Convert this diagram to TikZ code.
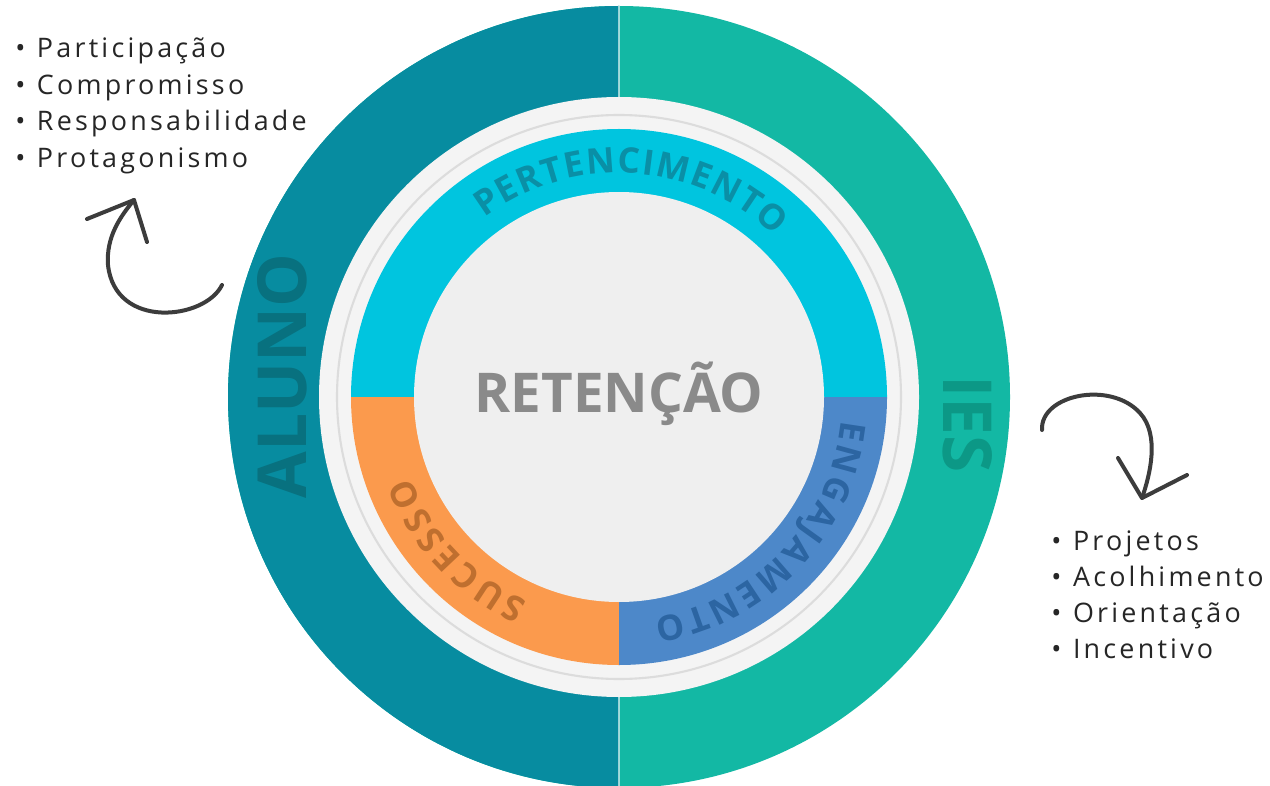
\documentclass[tikz,border=0pt]{standalone}
\usepackage{fontspec}
\setmainfont{Open Sans}
\newfontfamily\listfont[LetterSpace=12]{Open Sans}
\usetikzlibrary{decorations.text}

\definecolor{alunoteal}{HTML}{078CA0}
\definecolor{alunodark}{HTML}{08717F}
\definecolor{iesgreen}{HTML}{13B8A4}
\definecolor{iesdark}{HTML}{0C9886}
\definecolor{pertcyan}{HTML}{00C5DF}
\definecolor{pertdark}{HTML}{0A8FA6}
\definecolor{sucorange}{HTML}{FB9A4D}
\definecolor{sucdark}{HTML}{BF6F2F}
\definecolor{engblue}{HTML}{4D88C9}
\definecolor{engdark}{HTML}{2C65A2}
\definecolor{ringgrey}{HTML}{F4F4F4}
\definecolor{ringline}{HTML}{DCDCDC}
\definecolor{coregrey}{HTML}{EFEFEF}
\definecolor{retgrey}{HTML}{8A8A8A}
\definecolor{arrowgrey}{HTML}{3C3C3C}
\definecolor{listgrey}{HTML}{262626}

\def\pieslice[#1](#2:#3:#4){\fill[#1] (0,0) -- (#2:#4) arc (#2:#3:#4) -- cycle;}
\def\curvefont{\fontsize{20}{22}\selectfont\bfseries}
\def\curvetext[#1](#2:#3:#4)#5{\path[decorate,decoration={text along path,text align={fit to path},text={|\curvefont\color{#1}|#5}}] (#2:#4) arc (#2:#3:#4);}
\def\bul{\textbullet\hspace{0.43em}}

\tikzset{
  listtext/.style={anchor=base west, inner sep=0pt, text=listgrey, font=\listfont\fontsize{15.3}{17}\selectfont},
  sidetext/.style={inner sep=0pt, font=\fontsize{38.5}{40}\selectfont\bfseries},
  arrowline/.style={draw=arrowgrey, line width=0.08cm, line cap=round, line join=round}
}

\begin{document}
\begin{tikzpicture}[x=0.02cm,y=0.02cm]
	%%%%% START %%%%%
	\useasboundingbox (0,0) rectangle (1270,785);
	\fill[white] (0,0) rectangle (1270,785);
	
	\begin{scope}[shift={(619,388)}]
		\coordinate (ctr) at (0,0);
		
		% outer ring
		\fill[iesgreen] (ctr) circle (391);
		\pieslice[alunoteal](90:270:391)
		\draw[white, opacity=0.6, line width=0.8pt] (90:391) -- (270:391);
		
		% light ring
		\fill[ringgrey] (ctr) circle (300);
		\draw[ringline, line width=1.2pt] (ctr) circle (282);
		
		% inner ring
		\pieslice[pertcyan](0:180:268)
		\pieslice[sucorange](180:270:268)
		\pieslice[engblue](270:360:268)
		\fill[coregrey] (ctr) circle (205);
		
		\node[sidetext, text=alunodark, rotate=90] (aluno) at (-337,21) {ALUNO};
		\node[sidetext, text=iesdark, rotate=-90] (ies) at (349,-27) {IES};
		\node[inner sep=0pt, anchor=base, text=retgrey, font=\fontsize{31.2}{33}\selectfont\bfseries] (retencao) at (0,-15) {RETENÇÃO};
		
		\curvetext[pertdark](127:46:224){PERTENCIMENTO}
		\curvetext[engdark](-6:-81:224){ENGAJAMENTO}
		\curvetext[sucdark](246:201:224){SUCESSO}
	\end{scope}
	
	% lists
	\node[listtext] (aluno1) at (15,727) {\bul Participação};
	\node[listtext] (aluno2) at (15,690.5) {\bul Compromisso};
	\node[listtext] (aluno3) at (15,654) {\bul Responsabilidade};
	\node[listtext] (aluno4) at (15,617.5) {\bul Protagonismo};
	
	\node[listtext] (ies1) at (1051,235) {\bul Projetos};
	\node[listtext] (ies2) at (1051,199) {\bul Acolhimento};
	\node[listtext] (ies3) at (1051,163) {\bul Orientação};
	\node[listtext] (ies4) at (1051,127) {\bul Incentivo};
	
	% arrows
	\coordinate (ltail) at (222,500);
	\coordinate (ltip) at (134,585);
	\draw[arrowline] (ltail) .. controls (205,465) and (115,455) .. (108,520) .. controls (106,548) and (120,568) .. (ltip);
	\draw[arrowline] (87,566) -- (ltip) -- (147,543);
	
	\coordinate (rtail) at (1042,355);
	\coordinate (rtip) at (1142,287);
	\draw[arrowline] (rtail) .. controls (1040,390) and (1110,405) .. (1140,372) .. controls (1160,350) and (1150,310) .. (rtip);
	\draw[arrowline] (1118,327) -- (rtip) -- (1187,310);
	
	%%%%% END %%%%%
\end{tikzpicture}
\end{document}
